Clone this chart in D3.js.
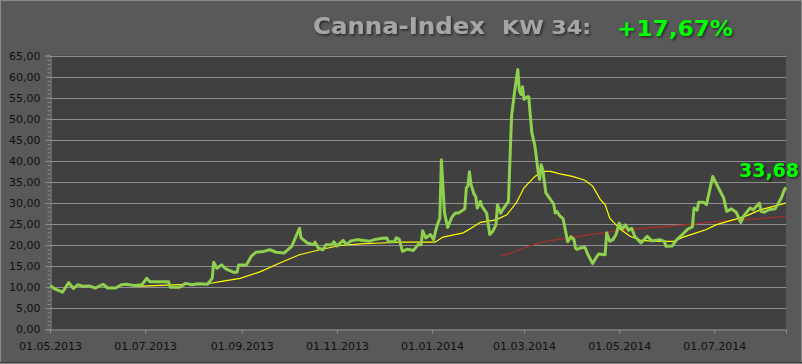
<!DOCTYPE html>
<html>
<head>
<meta charset="utf-8">
<script src="https://cdn.jsdelivr.net/npm/d3@7"></script>
<style>
  html, body { margin: 0; padding: 0; background: #595959; }
  svg { display: block; }
  .tick text { font-family: "DejaVu Sans", Verdana, sans-serif; }
</style>
</head>
<body>
<div id="chart"></div>
<script>
// Canna-Index, daily closes
const indexDates = ["2013-05-01","2013-05-02","2013-05-04","2013-05-09","2013-05-13","2013-05-16","2013-05-19","2013-05-22","2013-05-26","2013-05-30",
  "2013-06-04","2013-06-07","2013-06-12","2013-06-16","2013-06-19","2013-06-24","2013-06-29","2013-07-02","2013-07-04","2013-07-09",
  "2013-07-16","2013-07-17","2013-07-20","2013-07-23","2013-07-27","2013-07-31","2013-08-04","2013-08-10","2013-08-13","2013-08-14",
  "2013-08-16","2013-08-19","2013-08-22","2013-08-27","2013-08-29","2013-08-30","2013-09-04","2013-09-07","2013-09-10","2013-09-15",
  "2013-09-19","2013-09-23","2013-09-28","2013-10-03","2013-10-08","2013-10-09","2013-10-13","2013-10-17","2013-10-18","2013-10-20",
  "2013-10-23","2013-10-25","2013-10-29","2013-10-30","2013-11-01","2013-11-05","2013-11-07","2013-11-10","2013-11-14","2013-11-18",
  "2013-11-22","2013-11-25","2013-11-30","2013-12-03","2013-12-04","2013-12-08","2013-12-09","2013-12-11","2013-12-13","2013-12-16",
  "2013-12-18","2013-12-20","2013-12-23","2013-12-25","2013-12-26","2013-12-28","2013-12-31","2014-01-02","2014-01-04","2014-01-06",
  "2014-01-07","2014-01-09","2014-01-11","2014-01-13","2014-01-14","2014-01-16","2014-01-18","2014-01-22","2014-01-23","2014-01-24",
  "2014-01-25","2014-01-26","2014-01-28","2014-01-29","2014-01-30","2014-02-01","2014-02-02","2014-02-05","2014-02-07","2014-02-09",
  "2014-02-11","2014-02-12","2014-02-14","2014-02-16","2014-02-19","2014-02-21","2014-02-23","2014-02-25","2014-02-26","2014-02-27",
  "2014-02-28","2014-03-01","2014-03-03","2014-03-04","2014-03-06","2014-03-08","2014-03-10","2014-03-11","2014-03-12","2014-03-13",
  "2014-03-15","2014-03-18","2014-03-20","2014-03-21","2014-03-22","2014-03-24","2014-03-26","2014-03-29","2014-03-31","2014-04-02",
  "2014-04-03","2014-04-04","2014-04-06","2014-04-09","2014-04-11","2014-04-14","2014-04-16","2014-04-18","2014-04-22","2014-04-23",
  "2014-04-25","2014-04-27","2014-04-29","2014-05-01","2014-05-03","2014-05-05","2014-05-07","2014-05-09","2014-05-11","2014-05-15",
  "2014-05-19","2014-05-22","2014-05-27","2014-05-30","2014-05-31","2014-06-04","2014-06-07","2014-06-11","2014-06-14","2014-06-17",
  "2014-06-18","2014-06-20","2014-06-21","2014-06-24","2014-06-26","2014-06-30","2014-07-02","2014-07-07","2014-07-09","2014-07-12",
  "2014-07-15","2014-07-18","2014-07-20","2014-07-24","2014-07-26","2014-07-30","2014-07-31","2014-08-02","2014-08-05","2014-08-09",
  "2014-08-13","2014-08-15","2014-08-16"];
const indexValues = [10.3,10.2,9.6,8.8,11.1,9.7,10.6,10.2,10.3,9.8,
  10.7,9.8,9.8,10.6,10.7,10.4,10.6,12.1,11.3,11.3,
  11.3,10.0,10.0,10.0,10.9,10.6,10.8,10.7,12.1,15.9,
  14.5,15.3,14.3,13.5,13.6,15.3,15.3,17.3,18.3,18.5,
  18.9,18.3,18.1,19.7,24.0,21.7,20.5,20.1,20.7,19.3,
  18.9,20.1,20.1,20.8,19.8,21.1,20.1,21.0,21.3,21.1,
  20.9,21.3,21.6,21.7,20.8,20.8,21.7,21.4,18.5,19.0,
  18.9,18.7,20.1,20.1,23.4,21.7,22.5,21.3,24.4,26.4,
  40.2,27.6,24.2,26.0,26.8,27.6,27.6,28.6,33.6,34.0,
  37.4,34.4,32.0,31.6,28.8,30.4,29.2,27.6,22.5,23.3,
  24.8,29.6,27.6,28.8,30.4,50.6,56.6,61.7,56.6,55.8,
  57.6,54.6,55.2,55.2,46.7,43.5,37.5,35.6,39.1,37.9,
  32.4,30.8,29.8,27.6,28.0,26.9,26.3,20.8,22.0,21.3,
  19.3,19.0,19.3,19.5,17.7,15.6,16.9,17.9,17.7,22.9,
  20.9,21.3,22.5,25.2,23.8,24.8,23.5,24.0,22.1,20.5,
  22.1,21.0,21.3,20.9,19.7,19.8,21.3,22.7,23.8,24.3,
  28.8,28.3,30.2,30.2,29.6,36.3,34.8,31.2,28.0,28.6,
  27.8,25.4,27.0,28.8,28.4,30.0,28.0,27.8,28.4,28.6,
  31.2,33.2,33.68];

// short moving average (yellow)
const maShortDates = ["2013-06-24","2013-07-03","2013-07-16","2013-07-27","2013-08-08","2013-08-13","2013-08-19","2013-08-31","2013-09-13","2013-09-25",
  "2013-10-08","2013-10-21","2013-11-03","2013-11-16","2013-11-29","2013-12-11","2014-01-03","2014-01-08","2014-01-21","2014-01-26",
  "2014-02-01","2014-02-11","2014-02-18","2014-02-24","2014-03-01","2014-03-08","2014-03-13","2014-03-18","2014-03-24","2014-04-01",
  "2014-04-09","2014-04-14","2014-04-19","2014-04-22","2014-04-25","2014-04-29","2014-05-02","2014-05-08","2014-05-15","2014-05-25",
  "2014-06-05","2014-06-11","2014-06-17","2014-06-26","2014-07-02","2014-07-13","2014-07-22","2014-07-30","2014-08-08","2014-08-16"];
const maShortValues = [10.2,10.3,10.5,10.7,10.8,11.0,11.4,12.1,13.7,15.7,
  17.7,18.9,19.9,20.3,20.5,20.7,20.7,21.9,22.9,24.0,
  25.4,26.0,27.2,30.0,33.6,36.3,37.5,37.5,36.9,36.3,
  35.4,34.0,30.8,29.6,26.4,24.8,23.7,22.1,21.1,20.9,
  20.9,21.9,22.6,23.7,24.8,26.0,27.0,28.3,29.2,30.0];

// long moving average (dark red)
const maLongDates = ["2014-02-14","2014-02-22","2014-03-03","2014-03-11","2014-03-22","2014-04-06","2014-04-14","2014-05-06","2014-05-27","2014-06-17",
  "2014-07-09","2014-07-30","2014-08-16"];
const maLongValues = [17.3,18.3,19.6,20.6,21.3,22.1,22.6,23.7,24.3,25.0,
  25.8,26.3,26.8];

const yTicks = d3.range(0, 66, 5);
const xTickDates = ["2013-05-01","2013-07-01","2013-09-01","2013-11-01","2014-01-01","2014-03-01","2014-05-01","2014-07-01"];
const lastLabel = "33,68";

const width = 802, height = 364;
const parse = d3.utcParse("%Y-%m-%d");

const x = d3.scaleUtc()
  .domain([parse("2013-05-01"), parse("2014-08-16")])
  .range([50, 786]);
const y = d3.scaleLinear().domain([0, 65]).range([329.3, 55.6]);

const svg = d3.select("#chart").append("svg")
  .attr("width", width).attr("height", height);

const defs = svg.append("defs");
defs.append("filter").attr("id", "shadow")
  .attr("x", "-10%").attr("y", "-30%").attr("width", "130%").attr("height", "170%")
  .append("feDropShadow")
  .attr("dx", 1.5).attr("dy", 1.5).attr("stdDeviation", 1.2)
  .attr("flood-color", "#000").attr("flood-opacity", 0.55);

// background + frame
svg.append("rect").attr("x", 0.5).attr("y", 0.5)
  .attr("width", width - 1).attr("height", height - 1)
  .attr("fill", "#595959").attr("stroke", "#8a8a8a");
svg.append("line").attr("x1", 0).attr("x2", width).attr("y1", height - 1.5).attr("y2", height - 1.5)
  .attr("stroke", "#3a3a3a");

// plot area
svg.append("rect")
  .attr("x", x.range()[0]).attr("y", y(65))
  .attr("width", x.range()[1] - x.range()[0]).attr("height", y(0) - y(65))
  .attr("fill", "#404040");

// gridlines
svg.append("g").selectAll("line").data(yTicks.filter(d => d > 0)).join("line")
  .attr("x1", x.range()[0]).attr("x2", x.range()[1])
  .attr("y1", d => Math.round(y(d)) + 0.5).attr("y2", d => Math.round(y(d)) + 0.5)
  .attr("stroke", "#8e8e8e").attr("stroke-width", 1);

// y axis: minor ticks
const yMinor = svg.append("g").attr("transform", "translate(50.5,0)")
  .call(d3.axisLeft(y).tickValues(d3.range(0, 66, 1)).tickSize(3).tickFormat(""));
yMinor.select(".domain").remove();
yMinor.selectAll("line").attr("stroke", "#8e8e8e");

const yAxis = svg.append("g").attr("transform", "translate(50.5,0)")
  .call(d3.axisLeft(y).tickValues(yTicks).tickSize(5).tickPadding(5)
    .tickFormat(d => d3.format(".2f")(d).replace(".", ",")));
yAxis.select(".domain").attr("stroke", "#8e8e8e");
yAxis.selectAll(".tick line").attr("stroke", "#8e8e8e");
yAxis.selectAll(".tick text").attr("fill", "#101010").attr("font-size", 11);

const xAxis = svg.append("g").attr("transform", `translate(0,${Math.round(y(0)) + 0.5})`)
  .call(d3.axisBottom(x).tickValues(xTickDates.map(parse)).tickSize(4).tickPadding(9)
    .tickFormat(d3.utcFormat("%d.%m.%Y")));
xAxis.select(".domain").attr("stroke", "#8e8e8e");
xAxis.selectAll(".tick line").attr("stroke", "#8e8e8e");
xAxis.selectAll(".tick text").attr("fill", "#101010").attr("font-size", 11);

// series
const line = d3.line().x(d => x(d[0])).y(d => y(d[1]));
const zipSeries = (dates, vals) => dates.map((d, i) => [parse(d), vals[i]]);

svg.append("path").datum(zipSeries(maLongDates, maLongValues))
  .attr("d", line).attr("fill", "none")
  .attr("stroke", "#a2302c").attr("stroke-width", 1.3);

svg.append("path").datum(zipSeries(maShortDates, maShortValues))
  .attr("d", line).attr("fill", "none")
  .attr("stroke", "#ffff00").attr("stroke-width", 1.2);

svg.append("path").datum(zipSeries(indexDates, indexValues))
  .attr("d", line).attr("fill", "none")
  .attr("stroke", "#8fd04f").attr("stroke-width", 3)
  .attr("stroke-linejoin", "round");

// last value label
svg.append("text")
  .attr("x", 739).attr("y", 177)
  .attr("font-family", "DejaVu Sans, Verdana, sans-serif")
  .attr("font-weight", "bold").attr("font-size", 19)
  .attr("textLength", 60).attr("lengthAdjust", "spacingAndGlyphs")
  .attr("fill", "#00ff00").attr("filter", "url(#shadow)")
  .text(lastLabel);

// title
const title = svg.append("g").attr("font-family", "DejaVu Sans, Verdana, sans-serif")
  .attr("font-weight", "bold").attr("filter", "url(#shadow)");
title.append("text").attr("x", 313).attr("y", 33.5).attr("font-size", 23)
  .attr("textLength", 172).attr("lengthAdjust", "spacingAndGlyphs")
  .attr("fill", "#a6a6a6").text("Canna-Index");
title.append("text").attr("x", 502).attr("y", 33.5).attr("font-size", 20)
  .attr("textLength", 89).attr("lengthAdjust", "spacingAndGlyphs")
  .attr("fill", "#a6a6a6").text("KW 34:");
title.append("text").attr("x", 617).attr("y", 35.5).attr("font-size", 22)
  .attr("textLength", 116).attr("lengthAdjust", "spacingAndGlyphs")
  .attr("fill", "#00ff00").text("+17,67%");
</script>
</body>
</html>
